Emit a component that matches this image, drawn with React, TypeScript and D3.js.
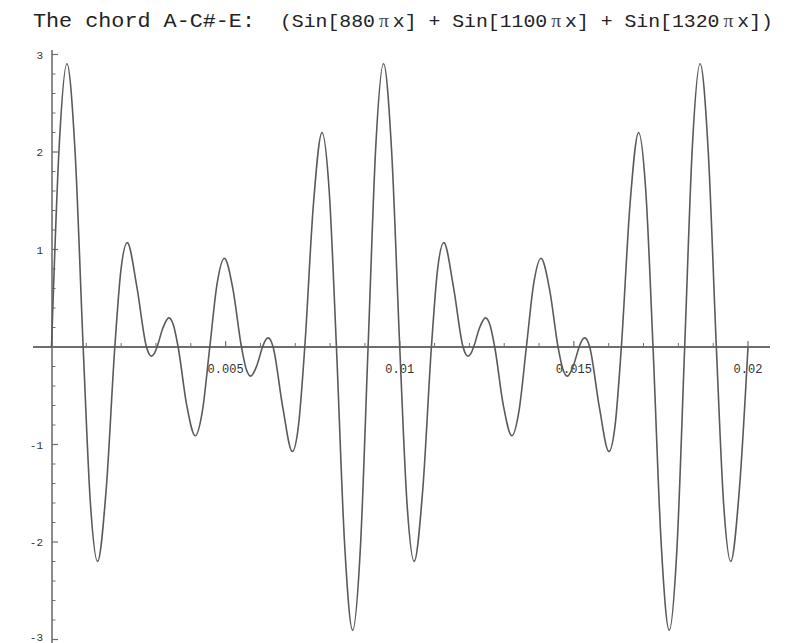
import React from "react";
import * as d3 from "d3";

// Readings of the plotted curve: time (ms) and amplitude at zero crossings, extrema and lobe midpoints
const timeMs = [
  0, 0.2222, 0.4427, 0.6768, 0.9091, 1.1162, 1.3227, 1.5707, 1.8182, 1.9949, 2.175, 2.4495,
  2.7273, 2.803, 2.8712, 2.9545, 3.0303, 3.1995, 3.3712, 3.5025, 3.6364, 3.8813, 4.1268, 4.3359,
  4.5455, 4.7551, 4.9641, 5.2096, 5.4545, 5.5884, 5.7197, 5.8914, 6.0606, 6.1364, 6.2197, 6.2879,
  6.3636, 6.6414, 6.9159, 7.096, 7.2727, 7.5202, 7.7682, 7.9747, 8.1818, 8.4141, 8.6482, 8.8687,
  9.0909, 9.3131, 9.5336, 9.7677, 10.0, 10.2071, 10.4136, 10.6616, 10.9091, 11.0858, 11.2659, 11.5404,
  11.8182, 11.8939, 11.9621, 12.0454, 12.1212, 12.2904, 12.4621, 12.5934, 12.7273, 12.9722, 13.2177, 13.4268,
  13.6364, 13.846, 14.055, 14.3005, 14.5454, 14.6793, 14.8106, 14.9823, 15.1515, 15.2273, 15.3106, 15.3788,
  15.4545, 15.7323, 16.0068, 16.1869, 16.3636, 16.6111, 16.8591, 17.0656, 17.2727, 17.505, 17.7391, 17.9596,
  18.1818, 18.404, 18.6245, 18.8586, 19.0909, 19.298, 19.5045, 19.7525, 20.0,
];
const amplitude = [
  0, 2.068, 2.905, 2.003, 0, -1.597, -2.199, -1.459, 0, 0.793, 1.071, 0.62,
  0, -0.073, -0.094, -0.065, 0, 0.195, 0.299, 0.224, 0, -0.594, -0.91, -0.649,
  0, 0.649, 0.91, 0.594, 0, -0.224, -0.299, -0.195, 0, 0.065, 0.094, 0.073,
  0, -0.62, -1.071, -0.793, 0, 1.459, 2.199, 1.597, 0, -2.003, -2.905, -2.068,
  0, 2.068, 2.905, 2.003, 0, -1.597, -2.199, -1.459, 0, 0.793, 1.071, 0.62,
  0, -0.073, -0.094, -0.065, 0, 0.195, 0.299, 0.224, 0, -0.594, -0.91, -0.649,
  0, 0.649, 0.91, 0.594, 0, -0.224, -0.299, -0.195, 0, 0.065, 0.094, 0.073,
  0, -0.62, -1.071, -0.793, 0, 1.459, 2.199, 1.597, 0, -2.003, -2.905, -2.068,
  0, 2.068, 2.905, 2.003, 0, -1.597, -2.199, -1.459, 0,
];

const xMajorTicks = [0.005, 0.01, 0.015, 0.02];
const xTickLabels = ["0.005", "0.01", "0.015", "0.02"];
const yMajorTicks = [-3, -2, -1, 1, 2, 3];
const yTickLabels = ["-3", "-2", "-1", "1", "2", "3"];
const titleLead = "The chord A-C#-E:";
const formulaTerms = ["880", "1100", "1320"];

const W = 786;
const H = 643;

export default function App() {
  const x = d3.scaleLinear().domain([0, 0.02]).range([51.5, 748]);
  const y = d3.scaleLinear().domain([-3, 3]).range([639.5, 54.5]);

  const xMinor = d3.range(1, 21).map((k) => k * 0.001).filter((v) => !xMajorTicks.some((m) => Math.abs(m - v) < 1e-9));
  const yMinor = d3.range(-15, 16).map((k) => k * 0.2).filter((v) => Math.abs(v - Math.round(v)) > 1e-6);

  const line = d3
    .line<number>()
    .x((i) => x(timeMs[i] / 1000))
    .y((i) => y(amplitude[i]))
    .curve(d3.curveMonotoneX);
  const path = line(d3.range(timeMs.length)) || "";

  const axisColor = "#6e6e6e";
  const labelColor = "#333";
  const mono = "'Liberation Mono', 'DejaVu Sans Mono', monospace";

  return (
    <svg width={W} height={H} style={{ position: "absolute", left: 0, top: 0, background: "#fff" }}>
      <rect x={0} y={0} width={W} height={H} fill="#fff" />
      {/* Title */}
      <text x={33} y={27} fontFamily={mono} fontSize={21} fill="#222" textLength={222} lengthAdjust="spacingAndGlyphs">
        {titleLead}
      </text>
      <text x={280} y={27} fontFamily={mono} fontSize={19} fill="#222" textLength={493} lengthAdjust="spacingAndGlyphs">
        {formulaTerms.map((f, i) => (
          <React.Fragment key={f}>
            <tspan>{(i === 0 ? "(" : "") + "Sin[" + f}</tspan>
            <tspan fontFamily="'Liberation Serif', 'DejaVu Serif', serif" fill="#444">{"\u2009\u03c0\u2009"}</tspan>
            <tspan>{"x]" + (i < formulaTerms.length - 1 ? " + " : ")")}</tspan>
          </React.Fragment>
        ))}
      </text>

      {/* X axis */}
      <line x1={33} x2={770} y1={y(0)} y2={y(0)} stroke={axisColor} strokeWidth={2} />
      {xMinor.map((v) => (
        <line key={"xm" + v} x1={x(v)} x2={x(v)} y1={y(0)} y2={y(0) - 4} stroke={axisColor} strokeWidth={1} />
      ))}
      {xMajorTicks.map((v, i) => (
        <g key={"xM" + v}>
          <line x1={x(v)} x2={x(v)} y1={y(0)} y2={y(0) - 6} stroke={axisColor} strokeWidth={1.2} />
          <text x={x(v)} y={373} textAnchor="middle" fontFamily={mono} fontSize={12} fill={labelColor}>
            {xTickLabels[i]}
          </text>
        </g>
      ))}

      {/* Y axis */}
      <line x1={52} x2={52} y1={50} y2={643} stroke={axisColor} strokeWidth={1.6} />
      {yMinor.map((v) => (
        <line key={"ym" + v} x1={52} x2={55.5} y1={y(v)} y2={y(v)} stroke={axisColor} strokeWidth={1} />
      ))}
      {yMajorTicks.map((v, i) => (
        <g key={"yM" + v}>
          <line x1={52} x2={58} y1={y(v)} y2={y(v)} stroke={axisColor} strokeWidth={1.2} />
          <text x={43} y={Math.min(y(v) + 4, 641)} textAnchor="end" fontFamily={mono} fontSize={11} fill={labelColor}>
            {yTickLabels[i]}
          </text>
        </g>
      ))}

      {/* Curve */}
      <path d={path} fill="none" stroke="#5a5a5a" strokeWidth={1.6} strokeLinejoin="round" />
    </svg>
  );
}
